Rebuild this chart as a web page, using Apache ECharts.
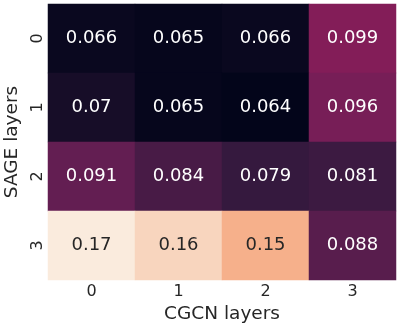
<!DOCTYPE html>
<html>
<head>
<meta charset="utf-8">
<script src="https://cdn.jsdelivr.net/npm/echarts@6/dist/echarts.min.js"></script>
<style>html,body{margin:0;padding:0;background:#fff}#c{width:400px;height:328px}</style>
</head>
<body>
<div id="c"></div>
<script>
var xCategories = ['0', '1', '2', '3'];
var yCategories = ['0', '1', '2', '3'];
var xTitle = 'CGCN layers';
var yTitle = 'SAGE layers';
// rows = SAGE layers (0..3), columns = CGCN layers (0..3)
// (values shown rounded to 2 significant digits; third digit estimated from colour)
var row0 = [0.066, 0.065, 0.066, 0.099];
var row1 = [0.070, 0.065, 0.064, 0.096];
var row2 = [0.091, 0.084, 0.079, 0.081];
var row3 = [0.170, 0.164, 0.154, 0.088];
var rows = [row0, row1, row2, row3];
var rocket = ['#03051a', '#35193e', '#701f57', '#ad1759', '#e13342', '#f37651', '#f6b48f', '#faebdd'];

var all = [].concat(row0, row1, row2, row3);
var vmin = Math.min.apply(null, all), vmax = Math.max.apply(null, all);
var data = [];
rows.forEach(function (r, yi) {
  r.forEach(function (v, xi) {
    var t = (v - vmin) / (vmax - vmin);
    data.push({
      value: [xi, yi, v],
      label: { color: t > 0.6 ? '#262626' : '#ffffff' }
    });
  });
});

var font = 'DejaVu Sans';
var chart = echarts.init(document.getElementById('c'), null, { renderer: 'canvas' });
chart.setOption({
  animation: false,
  grid: { left: 48, right: 4, top: 4, bottom: 48, containLabel: false, outerBoundsMode: 'none' },
  xAxis: {
    type: 'category', data: xCategories,
    name: xTitle, nameLocation: 'middle', nameGap: 23,
    nameTextStyle: { fontFamily: font, fontSize: 18.5, color: '#262626' },
    axisLine: { show: false }, axisTick: { show: false }, splitLine: { show: false },
    axisLabel: { fontFamily: font, fontSize: 16, color: '#262626', margin: 4 }
  },
  yAxis: {
    type: 'category', data: yCategories, inverse: true,
    name: yTitle, nameLocation: 'middle', nameGap: 24, nameRotate: 90,
    nameTextStyle: { fontFamily: font, fontSize: 18.5, color: '#262626' },
    axisLine: { show: false }, axisTick: { show: false }, splitLine: { show: false },
    axisLabel: { fontFamily: font, fontSize: 16, color: '#262626', margin: 2, rotate: 90 }
  },
  visualMap: {
    show: false, min: vmin, max: vmax, dimension: 2,
    inRange: { color: rocket }
  },
  series: [{
    type: 'heatmap',
    data: data,
    itemStyle: { borderWidth: 0 },
    label: {
      show: true, fontFamily: font, fontSize: 18,
      formatter: function (p) { return String(Number(p.value[2].toPrecision(2))); }
    }
  }]
});
</script>
</body>
</html>
